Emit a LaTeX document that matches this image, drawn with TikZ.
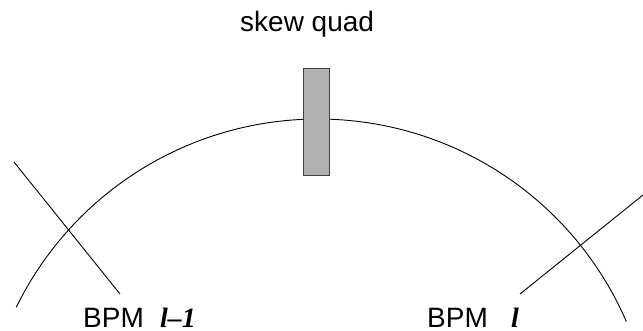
\documentclass[tikz,border=0pt]{standalone}
\usepackage{fontspec}
\setmainfont{Liberation Sans}
\newfontfamily\indexfont{Liberation Serif}
\tikzset{
    label text/.style={anchor=base west, inner sep=0pt, font=\fontsize{28}{28}\selectfont},
    index text/.style={anchor=base west, inner sep=0pt, font=\fontsize{28}{28}\selectfont\indexfont\bfseries\itshape},
    bpm line/.style={black, line width=0.9pt},
}
\begin{document}
\begin{tikzpicture}[x=1pt, y=-1pt]
    \useasboundingbox (0,0) rectangle (643,330);

    % Ring: circle through the two BPMs and the quad
    \draw[bpm line, samples=120, domain=153.9:23.4] plot ({318+336*cos(\x)}, {455-336*sin(\x)});

    % BPM l-1
    \coordinate (bpmLa) at (14,162);
    \coordinate (bpmLb) at (120,294);
    \draw[bpm line] (bpmLa) -- (bpmLb);
    \node[label text] (bpmLtext) at (83,327) {BPM};
    \node[index text] (bpmLindex) at (160,327) {l–1};

    % BPM l
    \coordinate (bpmRa) at (643,195);
    \coordinate (bpmRb) at (520,294);
    \draw[bpm line] (bpmRa) -- (bpmRb);
    \node[label text] (bpmRtext) at (427,327) {BPM};
    \node[index text] (bpmRindex) at (511,327) {l};

    % Skew quad
    \node[draw=black!75, fill=black!31, line width=0.9pt, minimum width=26pt, minimum height=107pt, inner sep=0pt] (quad) at (316,121.5) {};
    \node[label text] (quadtext) at (240,31) {skew quad};
\end{tikzpicture}
\end{document}
